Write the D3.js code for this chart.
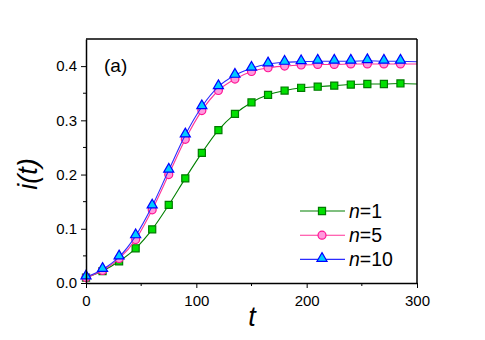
<!DOCTYPE html>
<html>
<head>
<meta charset="utf-8">
<script src="https://d3js.org/d3.v7.min.js"></script>
<style>
  body { margin: 0; background: #fff; }
  svg { font-family: "Liberation Sans", Arial, sans-serif; }
</style>
</head>
<body>
<div id="chart"></div>
<script>
// time points (markers every 15, line runs on to 300)
var times = [0, 15, 30, 45, 60, 75, 90, 105, 120, 135, 150, 165, 180, 195, 210, 225, 240, 255, 270, 285, 300];

// fraction of infected i(t) for each n
var n1 = [0.010, 0.022, 0.040, 0.064, 0.099, 0.144, 0.193, 0.240, 0.282, 0.312, 0.333, 0.347, 0.355, 0.360, 0.362, 0.364, 0.366, 0.367, 0.367, 0.368, 0.367];
var n5 = [0.010, 0.023, 0.045, 0.080, 0.135, 0.200, 0.265, 0.318, 0.355, 0.376, 0.390, 0.397, 0.400, 0.402, 0.403, 0.403, 0.404, 0.404, 0.404, 0.404, 0.404];
var n10 = [0.011, 0.025, 0.048, 0.087, 0.142, 0.208, 0.273, 0.325, 0.362, 0.383, 0.396, 0.404, 0.407, 0.408, 0.409, 0.409, 0.409, 0.410, 0.409, 0.409, 0.408];

var seriesNames = ["n=1", "n=5", "n=10"];
var xTicks = [0, 100, 200, 300];
var yTicks = [0.0, 0.1, 0.2, 0.3, 0.4];

var width = 485, height = 340;
var margin = {left: 86, right: 68, top: 39, bottom: 57};

var svg = d3.select("#chart").append("svg")
    .attr("width", width)
    .attr("height", height);

var x = d3.scaleLinear().domain([0, 300]).range([margin.left, width - margin.right]);
var y = d3.scaleLinear().domain([0, 0.45]).range([height - margin.bottom, margin.top]);

// series styling
var styles = [
  {values: n1, line: "#008000", fill: "#00e000", stroke: "#007a00", shape: "square"},
  {values: n5, line: "#ff3399", fill: "#ff99dd", stroke: "#ff1493", shape: "circle"},
  {values: n10, line: "#2b2bff", fill: "#00ccff", stroke: "#0000ff", shape: "triangle"}
];

var symbols = {
  square: d3.symbol().type(d3.symbolSquare).size(50),
  circle: d3.symbol().type(d3.symbolCircle).size(50),
  triangle: d3.symbol().type(d3.symbolTriangle).size(44)
};

var line = d3.line()
    .x(function (d) { return x(d.t); })
    .y(function (d) { return y(d.v); })
    .curve(d3.curveMonotoneX);

styles.forEach(function (s) {
  var pts = times.map(function (t, i) { return {t: t, v: s.values[i]}; });
  svg.append("path")
      .datum(pts)
      .attr("fill", "none")
      .attr("stroke", s.line)
      .attr("stroke-width", 1.1)
      .attr("d", line);
  svg.append("g").selectAll("path")
      .data(pts.filter(function (d) { return d.t < 300; }))
      .enter().append("path")
      .attr("d", symbols[s.shape])
      .attr("transform", function (d) {
        var dy = s.shape === "triangle" ? -1 : 0;
        return "translate(" + x(d.t) + "," + (y(d.v) + dy) + ")";
      })
      .attr("fill", s.fill)
      .attr("stroke", s.stroke)
      .attr("stroke-width", 1.2);
});

// frame: top and right
svg.append("line")
    .attr("x1", x(0)).attr("x2", x(300))
    .attr("y1", y(0.45)).attr("y2", y(0.45))
    .attr("stroke", "#000").attr("stroke-width", 1.5);
svg.append("line")
    .attr("x1", x(300)).attr("x2", x(300))
    .attr("y1", y(0.45)).attr("y2", y(0))
    .attr("stroke", "#000").attr("stroke-width", 1.5);

// axes
var xAxis = svg.append("g")
    .attr("transform", "translate(0," + y(0) + ")")
    .call(d3.axisBottom(x).tickValues(xTicks).tickSize(5).tickSizeOuter(0).tickPadding(7).tickFormat(d3.format("d")));
xAxis.append("g").selectAll("line")
    .data([50, 150, 250])
    .enter().append("line")
    .attr("x1", function (d) { return x(d); }).attr("x2", function (d) { return x(d); })
    .attr("y1", 0).attr("y2", 3)
    .attr("stroke", "#000");

var yAxis = svg.append("g")
    .attr("transform", "translate(" + x(0) + ",0)")
    .call(d3.axisLeft(y).tickValues(yTicks).tickSize(5).tickSizeOuter(0).tickPadding(4).tickFormat(d3.format(".1f")));
yAxis.append("g").selectAll("line")
    .data([0.05, 0.15, 0.25, 0.35])
    .enter().append("line")
    .attr("y1", function (d) { return y(d); }).attr("y2", function (d) { return y(d); })
    .attr("x1", 0).attr("x2", -3)
    .attr("stroke", "#000");

svg.selectAll(".domain").attr("stroke-width", 1.5);
svg.selectAll(".tick text")
    .attr("font-size", 15)
    .attr("font-family", "Liberation Sans, Arial, sans-serif")
    .attr("fill", "#000");

// axis titles
svg.append("text")
    .attr("transform", "translate(37,174) rotate(-90)")
    .attr("text-anchor", "middle")
    .attr("font-size", 27)
    .attr("font-style", "italic")
    .text("i(t)");

svg.append("text")
    .attr("x", 252)
    .attr("y", 326)
    .attr("text-anchor", "middle")
    .attr("font-size", 27)
    .attr("font-style", "italic")
    .text("t");

svg.append("text")
    .attr("x", 104)
    .attr("y", 72)
    .attr("font-size", 19)
    .text("(a)");

// legend
var legend = svg.append("g");
styles.forEach(function (s, i) {
  var ly = 211 + i * 24.2;
  var row = legend.append("g");
  row.append("line")
      .attr("x1", 300).attr("x2", 345)
      .attr("y1", ly).attr("y2", ly)
      .attr("stroke", s.line).attr("stroke-width", 1.1);
  row.append("path")
      .attr("d", symbols[s.shape])
      .attr("transform", "translate(322," + (ly + (s.shape === "triangle" ? -1 : 0)) + ")")
      .attr("fill", s.fill)
      .attr("stroke", s.stroke)
      .attr("stroke-width", 1.2);
  var parts = seriesNames[i].split("=");
  var txt = row.append("text")
      .attr("x", 349)
      .attr("y", ly + 7)
      .attr("font-size", 19.5);
  txt.append("tspan").attr("font-style", "italic").text(parts[0]);
  txt.append("tspan").text("=" + parts[1]);
});
</script>
</body>
</html>
